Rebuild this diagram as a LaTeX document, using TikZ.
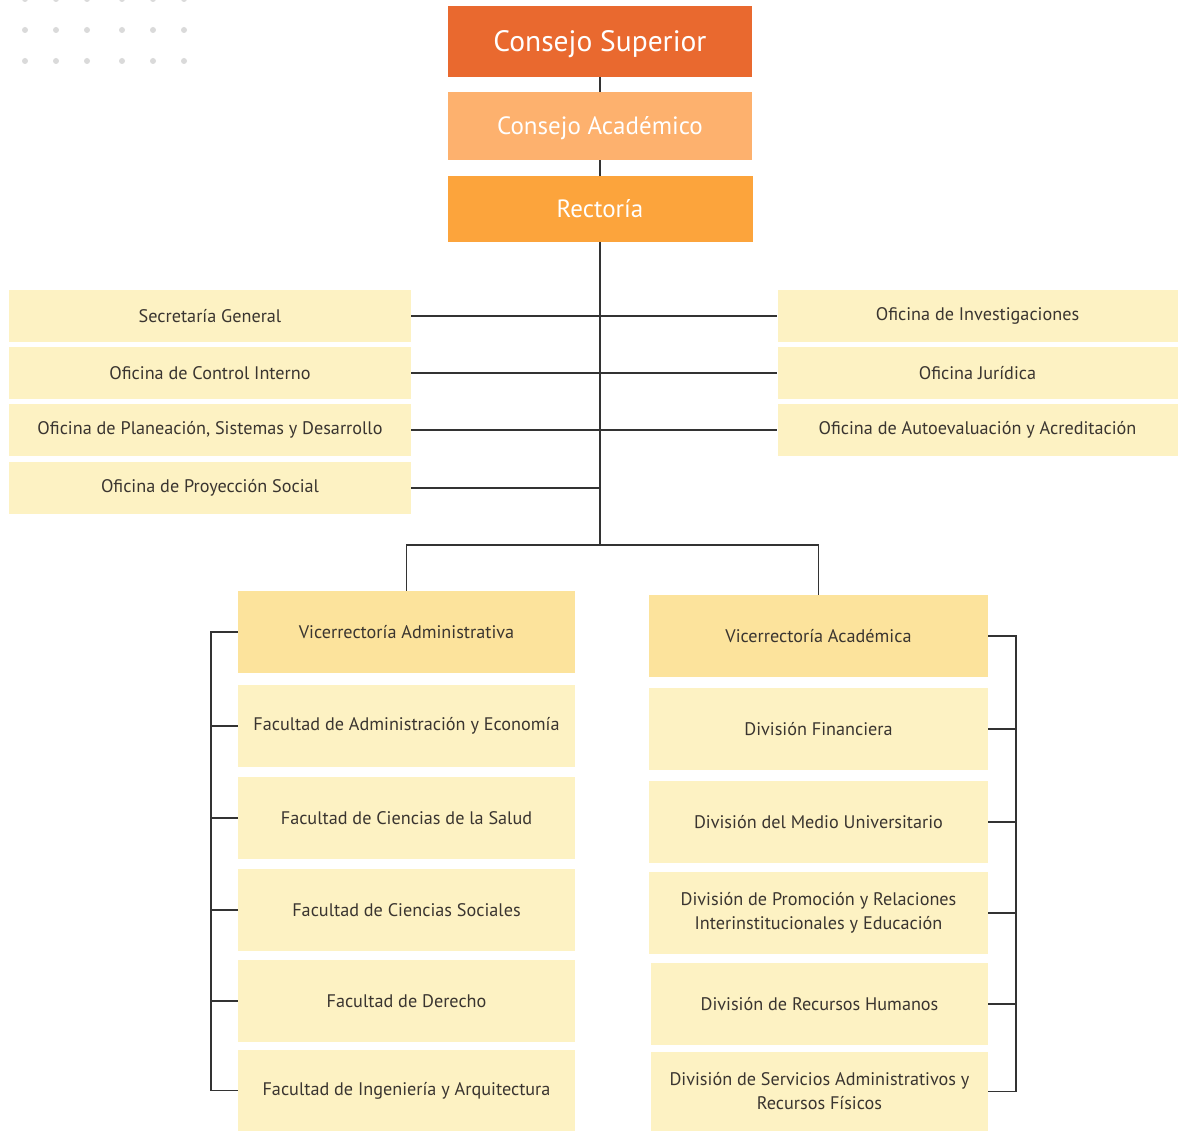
\documentclass[tikz,border=0pt]{standalone}
\usepackage{fontspec}
\setmainfont{PT Sans}
\usetikzlibrary{calc}
\definecolor{cSup}{HTML}{E9692F}
\definecolor{cAca}{HTML}{FDB16E}
\definecolor{cRec}{HTML}{FCA43C}
\definecolor{cVice}{HTML}{FCE39C}
\definecolor{cBox}{HTML}{FDF2C3}
\definecolor{cTxt}{HTML}{3A3530}
\definecolor{cLine}{HTML}{333333}
\definecolor{cDot}{HTML}{DADADA}
\tikzset{
  topbox/.style={fill=#1, text=white, inner sep=0pt, text depth=0pt, font=\fontsize{25}{30}\selectfont},
  sidebox/.style={fill=cBox, text=cTxt, inner sep=0pt, minimum width=402pt, minimum height=52pt, font=\fontsize{18.2}{21}\selectfont},
  colbox/.style={fill=#1, text=cTxt, inner sep=0pt, minimum height=82pt, align=center, font=\fontsize{18.2}{24}\selectfont},
  link/.style={draw=cLine, line width=1.4pt}
}
\begin{document}
\begin{tikzpicture}[x=1pt,y=-1pt]
\useasboundingbox (0,0) rectangle (1178,1131);
% decorative dots
\foreach \px in {25,56,87,122,153,184}
  \foreach \py in {-1,30,61}
    \fill[cDot] (\px,\py) circle (3pt);
% top boxes
\node[topbox=cSup, minimum width=304pt, minimum height=71pt, font=\fontsize{29.5}{34}\selectfont] (cs) at (600,41.5) {Consejo Superior};
\node[topbox=cAca, minimum width=304pt, minimum height=68pt] (ca) at (600,126) {Consejo Académico};
\node[topbox=cRec, minimum width=305pt, minimum height=66pt] (rec) at (600,209) {Rectoría};
% left side boxes
\node[sidebox] (sg) at (210,316) {Secretaría General};
\node[sidebox] (ci) at (210,373) {Oficina de Control Interno};
\node[sidebox] (ps) at (210,430) {Oficina de Planeación, Sistemas y Desarrollo};
\node[sidebox] (pr) at (210,488) {Oficina de Proyección Social};
% right side boxes
\node[sidebox, minimum width=400pt] (oi) at (977.5,316) {Oficina de Investigaciones};
\node[sidebox, minimum width=400pt] (oj) at (977.5,373) {Oficina Jurídica};
\node[sidebox, minimum width=400pt] (oa) at (977.5,430) {Oficina de Autoevaluación y Acreditación};
% left column
\node[colbox=cVice, minimum width=337pt] (va) at (406.5,632) {Vicerrectoría Administrativa};
\node[colbox=cBox, minimum width=337pt] (f1) at (406.5,726) {Facultad de Administración y Economía};
\node[colbox=cBox, minimum width=337pt] (f2) at (406.5,818) {Facultad de Ciencias de la Salud};
\node[colbox=cBox, minimum width=337pt] (f3) at (406.5,910) {Facultad de Ciencias Sociales};
\node[colbox=cBox, minimum width=337pt] (f4) at (406.5,1001) {Facultad de Derecho};
\node[colbox=cBox, minimum width=337pt, minimum height=81pt] (f5) at (406.5,1090.5) {Facultad de Ingeniería y Arquitectura};
% right column
\node[colbox=cVice, minimum width=339pt] (vac) at (818.5,636) {Vicerrectoría Académica};
\node[colbox=cBox, minimum width=339pt] (d1) at (818.5,729) {División Financiera};
\node[colbox=cBox, minimum width=339pt] (d2) at (818.5,822) {División del Medio Universitario};
\node[colbox=cBox, minimum width=339pt] (d3) at (818.5,913) {División de Promoción y Relaciones\\Interinstitucionales y Educación};
\node[colbox=cBox, minimum width=337pt] (d4) at (819.5,1004) {División de Recursos Humanos};
\node[colbox=cBox, minimum width=337pt, minimum height=79pt] (d5) at (819.5,1091.5) {División de Servicios Administrativos y\\Recursos Físicos};
% connectors
\coordinate (hub) at (600,545);
\coordinate (lbar) at (211,0);
\coordinate (rbar) at (1016,0);
\draw[link] (cs.south) -- (ca.north);
\draw[link] (ca.south) -- (rec.north);
\draw[link] (rec.south) -- (hub);
\draw[link] (sg.east) -- (oi.west);
\draw[link] (ci.east) -- (oj.west);
\draw[link] (ps.east) -- (oa.west);
\draw[link] (pr.east) -- (pr.east -| hub);
\draw[link] (va.north) |- (hub);
\draw[link] (hub) -| (vac.north);
\draw[link] (va.west) -- (va.west -| lbar) -- (f5.west -| lbar) -- (f5.west);
\foreach \n in {f1,f2,f3,f4} \draw[link] (\n.west) -- (\n.west -| lbar);
\draw[link] (vac.east) -- (vac.east -| rbar) -- (d5.east -| rbar) -- (d5.east);
\foreach \n in {d1,d2,d3,d4} \draw[link] (\n.east) -- (\n.east -| rbar);
\end{tikzpicture}
\end{document}
